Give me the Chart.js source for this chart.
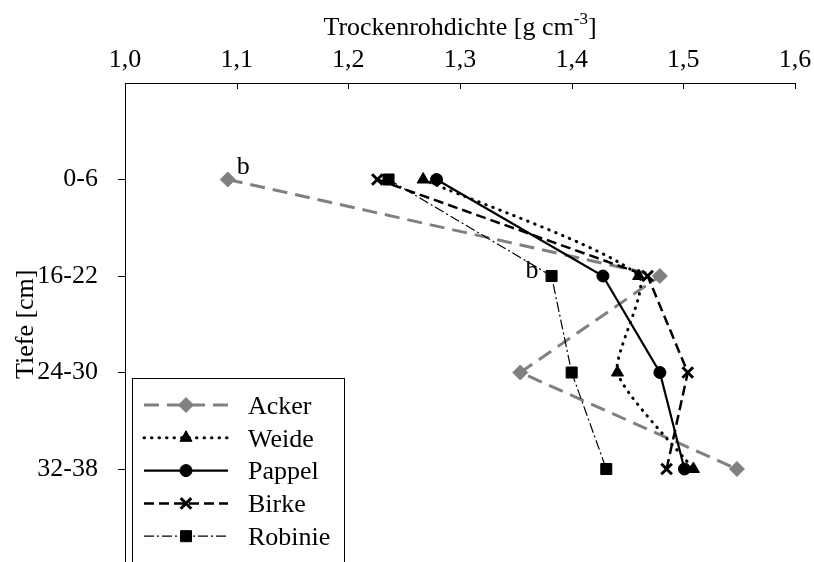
<!DOCTYPE html>
<html>
<head>
<meta charset="utf-8">
<script src="https://cdn.jsdelivr.net/npm/chart.js@4/dist/chart.umd.min.js"></script>
<style>
  html, body { margin: 0; padding: 0; background: #fff; overflow: hidden; }
  canvas { display: block; }
</style>
</head>
<body>
<!-- the plot runs past the lower edge of the picture, as in the original -->
<canvas id="densityChart" width="814" height="576"></canvas>
<script>
// Trockenrohdichte je Tiefenstufe
const depths  = ['0-6', '16-22', '24-30', '32-38'];
const acker   = [1.092, 1.479, 1.354, 1.548];
const weide   = [1.267, 1.460, 1.441, 1.509];
const pappel  = [1.279, 1.428, 1.479, 1.501];
const birke   = [1.226, 1.468, 1.504, 1.485];
const robinie = [1.236, 1.382, 1.400, 1.431];
const xTicks  = [1.0, 1.1, 1.2, 1.3, 1.4, 1.5, 1.6];
// significance letters: [dataset index, depth index, letter, side]
const notes = [[0, 0, 'b', 'right'], [4, 1, 'b', 'left']];

const FONT = '"Liberation Serif", "Times New Roman", serif';
const GRAY = '#808080';

const series = [
  { label: 'Acker',   data: acker,   color: GRAY,   width: 3,   dash: [15, 8],       cap: 'butt',  point: 'rectRot',  radius: 7.5, pbw: 1, tension: 0 },
  { label: 'Weide',   data: weide,   color: '#000', width: 3,   dash: [0.5, 7],      cap: 'round', point: 'triangle', radius: 7,   pbw: 1, tension: 0.2 },
  { label: 'Pappel',  data: pappel,  color: '#000', width: 2.2, dash: [],            cap: 'butt',  point: 'circle',   radius: 6,   pbw: 1, tension: 0 },
  { label: 'Birke',   data: birke,   color: '#000', width: 2.5, dash: [10, 5],       cap: 'butt',  point: 'crossRot', radius: 7.5, pbw: 3, tension: 0 },
  { label: 'Robinie', data: robinie, color: '#000', width: 1.2, dash: [10, 3, 2, 3], cap: 'butt',  point: 'rect',     radius: 7.8, pbw: 1, tension: 0 }
];

function marker(ctx, s, x, y) {
  ctx.save();
  ctx.setLineDash([]);
  ctx.fillStyle = s.color;
  ctx.strokeStyle = s.color;
  ctx.lineWidth = s.pbw;
  Chart.helpers.drawPoint(ctx, { pointStyle: s.point, radius: s.radius, rotation: 0, borderWidth: s.pbw }, x, y);
  ctx.restore();
}

function noPadding(s) {
  s.paddingTop = 0;
  s.paddingBottom = 0;
  s.paddingLeft = 0;
  s.paddingRight = 0;
}

const extras = {
  id: 'extras',
  afterDraw(chart) {
    const { ctx, chartArea, scales } = chart;
    ctx.save();

    // tick marks of the top axis point into the plot
    ctx.strokeStyle = '#000';
    ctx.lineWidth = 1;
    xTicks.forEach(v => {
      const px = Math.round(scales.x.getPixelForValue(v)) + 0.5;
      ctx.beginPath();
      ctx.moveTo(px, chartArea.top);
      ctx.lineTo(px, chartArea.top + 6);
      ctx.stroke();
    });

    // x title with superscript
    ctx.fillStyle = '#000';
    ctx.textBaseline = 'alphabetic';
    ctx.textAlign = 'left';
    const main = 'Trockenrohdichte [g cm', sup = '-3', end = ']';
    ctx.font = '26px ' + FONT;
    const w1 = ctx.measureText(main).width, w3 = ctx.measureText(end).width;
    ctx.font = '17px ' + FONT;
    const w2 = ctx.measureText(sup).width;
    let tx = (chartArea.left + chartArea.right) / 2 - (w1 + w2 + w3) / 2;
    ctx.font = '26px ' + FONT;
    ctx.fillText(main, tx, 35);
    ctx.font = '17px ' + FONT;
    ctx.fillText(sup, tx + w1, 24);
    ctx.font = '26px ' + FONT;
    ctx.fillText(end, tx + w1 + w2, 35);

    // y title
    ctx.save();
    ctx.translate(26, (scales.y.getPixelForValue(0) + scales.y.getPixelForValue(5)) / 2);
    ctx.rotate(-Math.PI / 2);
    ctx.textAlign = 'center';
    ctx.textBaseline = 'middle';
    ctx.fillText('Tiefe [cm]', 0, 0);
    ctx.restore();

    // significance letters
    notes.forEach(([di, idx, txt, side]) => {
      const px = scales.x.getPixelForValue(series[di].data[idx]);
      const py = scales.y.getPixelForValue(idx + 1);
      ctx.textBaseline = 'alphabetic';
      if (side === 'right') {
        ctx.textAlign = 'left';
        ctx.fillText(txt, px + 9, py - 6);
      } else {
        ctx.textAlign = 'right';
        ctx.fillText(txt, px - 13, py + 2);
      }
    });

    // legend box
    ctx.fillStyle = '#fff';
    ctx.fillRect(132.5, 378.5, 212, 200);
    ctx.strokeStyle = '#000';
    ctx.lineWidth = 1;
    ctx.strokeRect(132.5, 378.5, 212, 200);
    series.forEach((s, i) => {
      const ly = 405 + i * 32.8;
      ctx.save();
      ctx.strokeStyle = s.color;
      ctx.lineWidth = s.width;
      ctx.lineCap = s.cap;
      ctx.setLineDash(s.dash);
      ctx.beginPath();
      ctx.moveTo(144, ly);
      ctx.lineTo(228, ly);
      ctx.stroke();
      ctx.restore();
      marker(ctx, s, 186, ly);
      ctx.fillStyle = '#000';
      ctx.textAlign = 'left';
      ctx.textBaseline = 'middle';
      ctx.font = '26px ' + FONT;
      ctx.fillText(s.label, 248, ly + 2);
    });

    ctx.restore();
  }
};

const ctxDensity = document.getElementById('densityChart').getContext('2d');
new Chart(ctxDensity, {
  type: 'line',
  data: {
    datasets: series.map((s, i) => ({
      label: s.label,
      data: s.data.map((v, k) => ({ x: v, y: k + 1 })),
      borderColor: s.color,
      borderWidth: s.width,
      borderDash: s.dash,
      borderCapStyle: s.cap,
      pointStyle: s.point,
      pointRadius: s.radius,
      pointBackgroundColor: s.color,
      pointBorderColor: s.color,
      pointBorderWidth: s.pbw,
      tension: s.tension,
      fill: false,
      order: series.length - i
    }))
  },
  options: {
    responsive: false,
    animation: false,
    events: [],
    layout: { padding: { left: 0, right: 19, top: 0, bottom: 0 } },
    plugins: { legend: { display: false }, tooltip: { enabled: false } },
    scales: {
      x: {
        type: 'linear',
        position: 'top',
        min: 1,
        max: 1.6,
        afterBuildTicks: s => { s.ticks = xTicks.map(v => ({ value: v })); },
        ticks: {
          callback: v => v.toFixed(1).replace('.', ','),
          font: { family: FONT, size: 26 },
          color: '#000',
          padding: 7,
          maxRotation: 0
        },
        grid: { display: false, drawTicks: false },
        border: { color: '#000', width: 1 },
        afterFit: s => { s.height = 83; noPadding(s); }
      },
      y: {
        type: 'linear',
        reverse: true,
        min: 0,
        max: 5,
        afterBuildTicks: s => { s.ticks = depths.map((d, i) => ({ value: i + 1 })); },
        ticks: {
          callback: v => depths[v - 1] || '',
          font: { family: FONT, size: 26 },
          color: '#000',
          padding: 20
        },
        grid: { drawOnChartArea: false, tickLength: 7, color: '#000' },
        border: { color: '#000', width: 1 },
        afterFit: s => { s.width = 125; noPadding(s); }
      }
    }
  },
  plugins: [extras]
});
</script>
</body>
</html>
